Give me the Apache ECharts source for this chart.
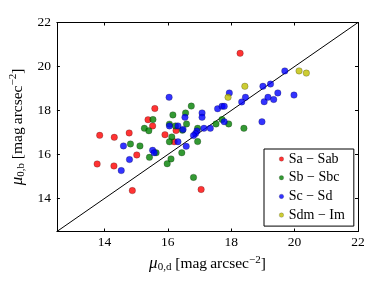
<!DOCTYPE html>
<html><head><meta charset="utf-8">
<script src="https://cdn.jsdelivr.net/npm/echarts@6/dist/echarts.min.js"></script>
<style>html,body{margin:0;padding:0;background:#fff}#c{width:382px;height:286px}</style>
</head><body><div id="c"></div>
<script>
var seriesNames = ['Sa \u2212 Sab', 'Sb \u2212 Sbc', 'Sc \u2212 Sd', 'Sdm \u2212 Im'];
var colors = ['#ff0000', '#008000', '#0000ff', '#bfbf00'];
var tickValues = [14, 16, 18, 20, 22];

var saSab = [
  [13.85,16.87],[14.31,16.78],[14.78,16.98],[15.375,17.58],[15.59,18.09],[15.52,17.30],
  [15.02,15.98],[13.77,15.57],[14.30,15.48],[14.88,14.36],[15.91,16.90],[16.26,17.09],
  [16.20,16.58],[17.05,14.41],[18.28,20.60]
];
var sbSbc = [
  [15.53,17.59],[15.26,17.19],[15.40,17.08],[14.82,16.48],[15.12,16.39],[15.42,15.87],
  [15.63,16.08],[16.16,17.80],[16.56,17.89],[16.74,18.20],[16.05,17.38],[16.24,17.30],
  [16.59,17.39],[16.46,17.10],[16.94,17.19],[16.125,16.80],[16.05,16.58],[16.94,16.59],
  [16.44,16.08],[16.10,15.80],[15.98,15.58],[16.81,14.96],[17.52,17.39],[17.71,17.59],
  [17.92,17.39],[18.40,17.19]
];
var scSd = [
  [14.60,16.39],[14.79,15.77],[14.53,15.27],[15.52,16.19],[15.57,16.08],[16.04,18.60],
  [16.54,17.69],[17.08,17.89],[17.08,17.69],[16.05,17.30],[16.32,17.30],[16.48,17.14],
  [16.32,16.58],[16.58,16.37],[16.92,17.07],[16.875,16.95],[16.81,16.86],[17.14,17.19],
  [17.34,17.19],[17.57,18.08],[17.71,18.19],[17.78,18.19],[17.78,17.49],[17.94,18.80],
  [18.33,18.39],[18.45,18.60],[18.97,17.49],[19.00,19.10],[19.24,19.20],[19.04,18.40],
  [19.16,18.60],[19.34,18.50],[19.47,18.80],[19.69,19.80],[19.98,18.70]
];
var sdmIm = [
  [17.90,18.60],[18.43,19.10],[20.14,19.80],[20.37,19.70]
];
var oneToOne = [[12.5,12.5],[22,22]];
var axisMin = 12.5, axisMax = 22;

var chart = echarts.init(document.getElementById('c'), null, {renderer:'canvas'});
var font = 'Liberation Serif';
function lab(v){ return tickValues.indexOf(Math.round(v*100)/100) >= 0 ? String(v) : ''; }
function mkAxis(pos, isX, show){
  return {
    type:'value', position:pos, min:axisMin, max:axisMax, minInterval:2, maxInterval:2,
    splitLine:{show:false},
    axisLine:{show:true, onZero:false, lineStyle:{color:'#000', width:1}},
    axisTick:{show:true, inside:true, length:3, lineStyle:{color:'#000'}},
    axisLabel:{show:show, showMinLabel:false, formatter:lab, color:'#000', fontFamily:font, fontSize:13.5, margin: isX?4:6},
  };
}
var xa = mkAxis('bottom', true, true);
xa.name = '{mu|\u03bc}{sub|0,d}{t| [mag\u2009arcsec}{sup|\u22122}{t|]}';
xa.nameLocation = 'middle'; xa.nameGap = 22;
var ya = mkAxis('left', false, true);
ya.name = '{mu|\u03bc}{sub|0,b}{t| [mag\u2009arcsec}{sup|\u22122}{t|]}';
ya.nameLocation = 'middle'; ya.nameGap = 29; ya.nameRotate = 90;
var rich = {
  mu:{fontFamily:font, fontStyle:'italic', fontSize:17, color:'#000'},
  t:{fontFamily:font, fontSize:15.5, color:'#000'},
  sub:{fontFamily:font, fontSize:11, color:'#000', padding:[7,0,0,0]},
  sup:{fontFamily:font, fontSize:11, color:'#000', padding:[0,0,8,0]}
};
xa.nameTextStyle = {rich:rich};
ya.nameTextStyle = {rich:rich};
var xt = mkAxis('top', true, false);
var yr = mkAxis('right', false, false);

function sc(name, data, color){
  return {type:'scatter', name:name, data:data, xAxisIndex:0, yAxisIndex:0, symbol:'circle', symbolSize:6.5,
    itemStyle:{color:color, borderColor:'rgba(0,0,0,0.55)', borderWidth:0.5}, z:3};
}
chart.setOption({
  animation:false,
  backgroundColor:'#fff',
  grid:{left:54, top:22.5, right:24, bottom:54.5, containLabel:false},
  xAxis:[xa, xt],
  yAxis:[ya, yr],
  legend:{
    data:seriesNames, orient:'vertical', left:264, top:149,
    padding:[3,9,4,15], itemGap:4.7, itemWidth:4.5, itemHeight:4.5,
    backgroundColor:'#fff', borderColor:'#000', borderWidth:1, borderRadius:0,
    itemStyle:{borderWidth:0.4},
    textStyle:{fontFamily:font, fontSize:14, color:'#000', lineHeight:14},
    icon:'circle'
  },
  series:[
    {type:'line', data:oneToOne, xAxisIndex:0, yAxisIndex:0, symbol:'none', silent:true,
     lineStyle:{color:'#000', width:1}, z:2},
    sc(seriesNames[0], saSab, colors[0]),
    sc(seriesNames[1], sbSbc, colors[1]),
    sc(seriesNames[2], scSd, colors[2]),
    sc(seriesNames[3], sdmIm, colors[3])
  ]
});
</script></body></html>
